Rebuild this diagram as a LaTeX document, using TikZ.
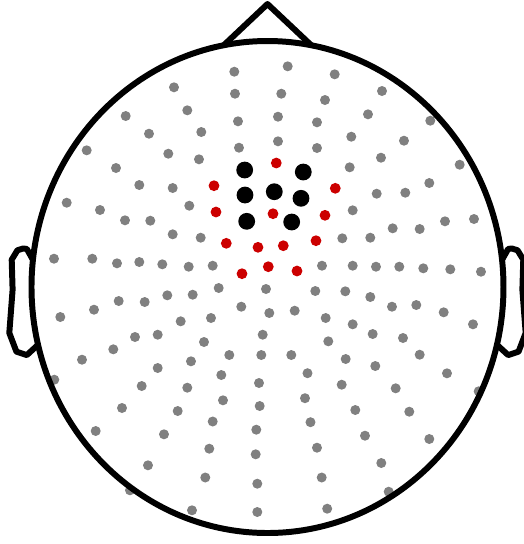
\documentclass[tikz,border=0pt]{standalone}
\usepackage{tikz}

\definecolor{sensorgray}{RGB}{128,128,128}
\definecolor{sensorred}{RGB}{204,0,0}

\tikzset{
  outline/.style={line width=1.7pt, line join=round},
}

\begin{document}
\begin{tikzpicture}[x=0.01cm,y=-0.01cm]
  \useasboundingbox (0,0) rectangle (524,544);
  % gray sensors
  \foreach \x/\y in {234.3/71.7, 174/87.3, 235/93.7, 187.3/110.3, 125.7/116,
      238/121.3, 149/133.7, 201.3/132, 86.7/150.3, 239/147.7, 168.3/153.7,
      199/159.3, 116/168, 139.3/185, 172.7/188, 66.7/202.7, 100/210,
      189.3/205.7, 125/220.3, 150.3/220.7, 172.7/234.3, 200.7/237.7,
      54/258.7, 92.3/258.7, 117/263.3, 139.3/262, 162.3/264.3, 188.7/266.7,
      212.7/265.7}
    \fill[sensorgray] (\x,\y) circle[radius=5];
  \foreach \x/\y in {287.7/66.3, 334.7/74.3, 382/91, 281.3/93.7, 325/100,
      368/114.3, 430.3/120.7, 278/116.7, 317/122.3, 351.3/136.7, 404/140.7,
      278/141.3, 317/148, 381/157.7, 459.7/164.7, 349.7/167.3, 429.3/183,
      376.7/193.7, 405.3/192.7, 352.7/210.3, 445/221.3, 474/219,
      392.7/228.3, 419.7/229, 342.3/238.3, 370.3/237.7, 322/265.7,
      352.7/265.7, 376/266.7, 399.3/266.7, 423.3/268.3, 450.3/269.3,
      481/271.7}
    \fill[sensorgray] (\x,\y) circle[radius=5];
  \foreach \x/\y in {218.7/288, 192.7/294.7, 167.3/295.3, 144.7/302,
      118.7/301, 94/309.7, 60.3/317, 241.3/306.7, 211/318, 180.7/321.3,
      157.7/334.7, 135/337, 204/342, 113.3/349.3, 82/359.7, 229.3/355,
      191/361.3, 157.7/368, 54.3/379.7, 141.7/386, 187.3/387.7, 221.3/375,
      223/400.3, 122/408, 177.7/411, 212.7/421.5, 95.7/431, 164/434.3,
      209.3/448.7, 148/465.3, 205.3/477.5, 130/490.3, 192/510.3}
    \fill[sensorgray] (\x,\y) circle[radius=5];
  \foreach \x/\y in {266/289, 269.3/313, 262.7/334.7, 261.3/355, 259/383,
      259.7/406, 256.3/429.7, 255.7/454.3, 257.3/483.7, 257.3/512}
    \fill[sensorgray] (\x,\y) circle[radius=5];
  \foreach \x/\y in {315.3/291, 345.3/291.3, 370.3/297, 392/306.7,
      416.3/305, 443.7/312.3, 473/324.3, 294.7/310.7, 325.7/318,
      352.7/324.3, 372.7/334, 403/338, 328.3/341.3, 291.3/355, 345.7/359,
      375.3/366, 419.7/354.7, 447/373.3, 307.5/373.2, 341.7/384.7,
      395.7/388.3, 478.7/391.3, 305/398.2, 355.3/410, 409.3/411.7,
      310.5/422.2, 365/435.7, 429.3/439, 317/447.7, 381.3/463, 321.7/477.5,
      388.7/491.7, 327.2/508.7}
    \fill[sensorgray] (\x,\y) circle[radius=5];
  % red sensors
  \foreach \x/\y in {276.3/163, 214/185.7, 335.3/188.3, 216/212, 273/213.7,
      325/215.3, 226.3/243.3, 258/247.3, 283.3/245.7, 316/240.7, 242/273.7,
      268.3/266.7, 297/271}
    \fill[sensorred] (\x,\y) circle[radius=5.4];
  % black sensors
  \foreach \x/\y in {244.7/170, 303.3/172, 245/195, 274.3/191.7, 301/198.3,
      246.7/221.3, 291.7/222}
    \fill[black] (\x,\y) circle[radius=8.4];
  % head, nose and ears
  \draw[outline] (267.5,287) ellipse [x radius=236, y radius=246];
  \draw[outline] (224,45) -- (267.5,4) -- (311,45);
  \draw[outline] (32.9,259.7) -- (26.8,248.9) -- (23,248.5) -- (17.4,250.3)
    -- (11.7,259.7) -- (12.6,289.7) -- (9.3,332.9) -- (16.4,351.6)
    -- (26.8,355.1) -- (36.7,346);
  \draw[outline] (502.1,259.7) -- (508.2,248.9) -- (512,248.5)
    -- (517.6,250.3) -- (523.3,259.7) -- (522.4,289.7) -- (525.7,332.9)
    -- (518.6,351.6) -- (508.2,355.1) -- (498.3,346);
\end{tikzpicture}
\end{document}
